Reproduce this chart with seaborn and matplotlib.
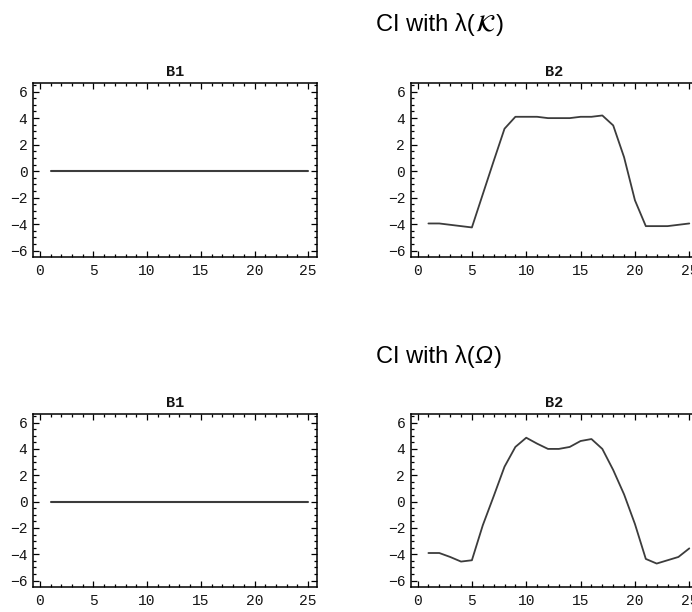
import numpy as np
import pandas as pd
import matplotlib
matplotlib.use("Agg")
import matplotlib.pyplot as plt
from matplotlib.ticker import MultipleLocator
import seaborn as sns

# Step index shared by every panel
steps = list(range(1, 26))

# Confidence-interval centre lines, lambda(K) row
k_b1 = [0.0, 0.0, 0.0, 0.0, 0.0, 0.0, 0.0, 0.0, 0.0, 0.0, 0.0, 0.0, 0.0,
        0.0, 0.0, 0.0, 0.0, 0.0, 0.0, 0.0, 0.0, 0.0, 0.0, 0.0, 0.0]
k_b2 = [-3.95, -3.95, -4.05, -4.15, -4.25, -1.75, 0.75, 3.2, 4.1, 4.1,
        4.1, 4.0, 4.0, 4.0, 4.1, 4.1, 4.2, 3.45, 1.05, -2.2, -4.15, -4.15,
        -4.15, -4.05, -3.95]

# Confidence-interval centre lines, lambda(Omega) row
o_b1 = [0.0, 0.0, 0.0, 0.0, 0.0, 0.0, 0.0, 0.0, 0.0, 0.0, 0.0, 0.0, 0.0,
        0.0, 0.0, 0.0, 0.0, 0.0, 0.0, 0.0, 0.0, 0.0, 0.0, 0.0, 0.0]
o_b2 = [-3.9, -3.9, -4.2, -4.55, -4.45, -1.8, 0.4, 2.65, 4.15, 4.85,
        4.4, 4.0, 4.0, 4.15, 4.6, 4.75, 4.0, 2.4, 0.55, -1.7, -4.35, -4.7,
        -4.45, -4.2, -3.55]

# Row headings: plain prefix, italic/script symbol, closing parenthesis
row_prefix = "CI with λ("
row_symbols = ["$\\mathcal{K}$", "Ω"]
row_suffix = ")"
panel_titles = ["B1", "B2"]
x_ticks = [0, 5, 10, 15, 20, 25]
y_ticks = [-6, -4, -2, 0, 2, 4, 6]

sns.set_theme(style="white")
plt.rcParams["font.family"] = ["Liberation Sans", "DejaVu Sans"]

W, H = 692, 612
fig = plt.figure(figsize=(W / 100, H / 100), dpi=100)

MONO = "Liberation Mono"


def frame_axes(left, top, right, bottom):
    return fig.add_axes([left / W, 1 - bottom / H, (right - left) / W,
                         (bottom - top) / H])


def style(ax, title):
    ax.set_xlim(-0.63, 25.82)
    ax.set_ylim(-6.48, 6.65)
    ax.set_xticks(x_ticks)
    ax.set_yticks(y_ticks)
    ax.xaxis.set_minor_locator(MultipleLocator(1))
    ax.yaxis.set_minor_locator(MultipleLocator(0.5))
    ax.tick_params(which="both", direction="in", top=True, right=True,
                   bottom=True, left=True, color="black", width=0.9)
    ax.tick_params(which="major", length=4)
    ax.tick_params(axis="x", which="major", pad=5)
    ax.tick_params(axis="y", which="major", pad=4)
    ax.tick_params(which="minor", length=2)
    for lab in ax.get_xticklabels() + ax.get_yticklabels():
        lab.set_fontfamily(MONO)
        lab.set_fontsize(10.5)
        lab.set_color("#151515")
    for sp in ax.spines.values():
        sp.set_visible(True)
        sp.set_color("black")
        sp.set_linewidth(1.1)
    ax.set_xlabel("")
    ax.set_ylabel("")
    ax.set_title(title, fontfamily=MONO, fontweight="bold",
                 fontsize=11, pad=5, color="#151515")


rows = [(k_b1, k_b2, 83, 257), (o_b1, o_b2, 414, 587)]
for r, (b1, b2, top, bottom) in enumerate(rows):
    ax1 = frame_axes(33, top, 317, bottom)
    df1 = pd.DataFrame({"step": steps, "value": b1})
    sns.lineplot(data=df1, x="step", y="value", ax=ax1, color="#3c3c3c",
                 linewidth=1.5)
    style(ax1, panel_titles[0])

    ax2 = frame_axes(410.7, top, 698.2, bottom)
    df2 = pd.DataFrame({"step": steps, "value": b2})
    sns.lineplot(data=df2, x="step", y="value", ax=ax2, color="#3c3c3c",
                 linewidth=1.3)
    style(ax2, panel_titles[1])

# Row headings, laid out piece by piece so the symbol can be italic
renderer = fig.canvas.get_renderer()
baselines = [31, 363]
for sym, base in zip(row_symbols, baselines):
    y = 1 - base / H
    x = 376.0
    pieces = [(row_prefix, "normal"), (sym, "italic"), (row_suffix, "normal")]
    for txt, fstyle in pieces:
        t = fig.text(x / W, y, txt, ha="left", va="baseline", fontsize=17,
                     color="black", family="Liberation Sans", style=fstyle)
        t.set_math_fontfamily("stix")
        bb = t.get_window_extent(renderer)
        x = bb.x1 + (1.0 if fstyle == "italic" else 0.0)

fig.savefig("out.png", dpi=100)
